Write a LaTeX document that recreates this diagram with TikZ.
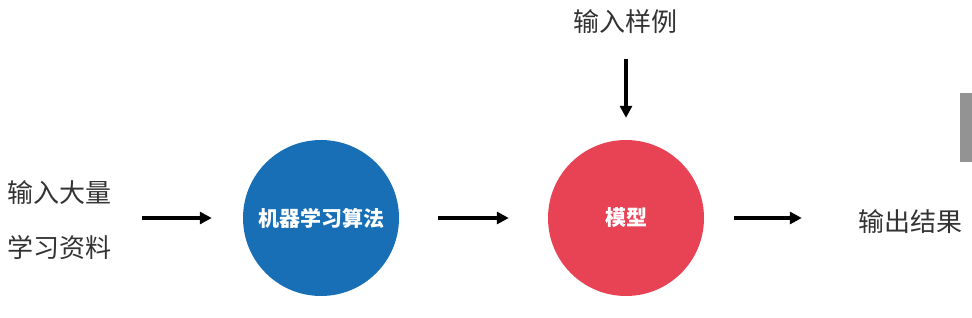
\documentclass[tikz,border=0pt]{standalone}
\usepackage{fontspec}
\newfontfamily\cjk{Noto Sans CJK SC}
\usetikzlibrary{arrows.meta,positioning}
\definecolor{algblue}{RGB}{25,111,181}
\definecolor{modred}{RGB}{232,66,85}
\tikzset{
  lbl/.style={font=\cjk\fontsize{26}{55}\selectfont,text=black!80,inner sep=0pt,align=center},
  ball/.style={circle,minimum size=156pt,inner sep=0pt,text=white,font=\cjk\bfseries\fontsize{21}{25}\selectfont},
  ar/.style={line width=3.3pt,-{Triangle[length=12pt,width=12pt]}}
}

\begin{document}
\begin{tikzpicture}[x=1pt,y=-1pt]
\useasboundingbox (0,0) rectangle (972,318);
\node[lbl] (data) at (59,220) {输入大量\\学习资料};
\node[ball,fill=algblue] (alg) at (321,218) {机器学习算法};
\node[ball,fill=modred] (model) at (626,218) {模型};
\node[lbl] (sample) at (625,22) {输入样例};
\node[lbl] (out) at (910,222) {输出结果};
\draw[ar,shorten <=31pt,shorten >=31pt] (data.east|-alg) -- (alg);
\draw[ar,shorten <=39pt,shorten >=39pt] (alg) -- (model);
\draw[ar,shorten <=30pt,shorten >=56pt] (model.east) -- (out.west|-model);
\draw[ar,shorten <=25pt,shorten >=22pt] (sample.south-|model) -- (model);
\fill[gray!85] (960,93) rectangle (972,162);
\end{tikzpicture}
\end{document}
